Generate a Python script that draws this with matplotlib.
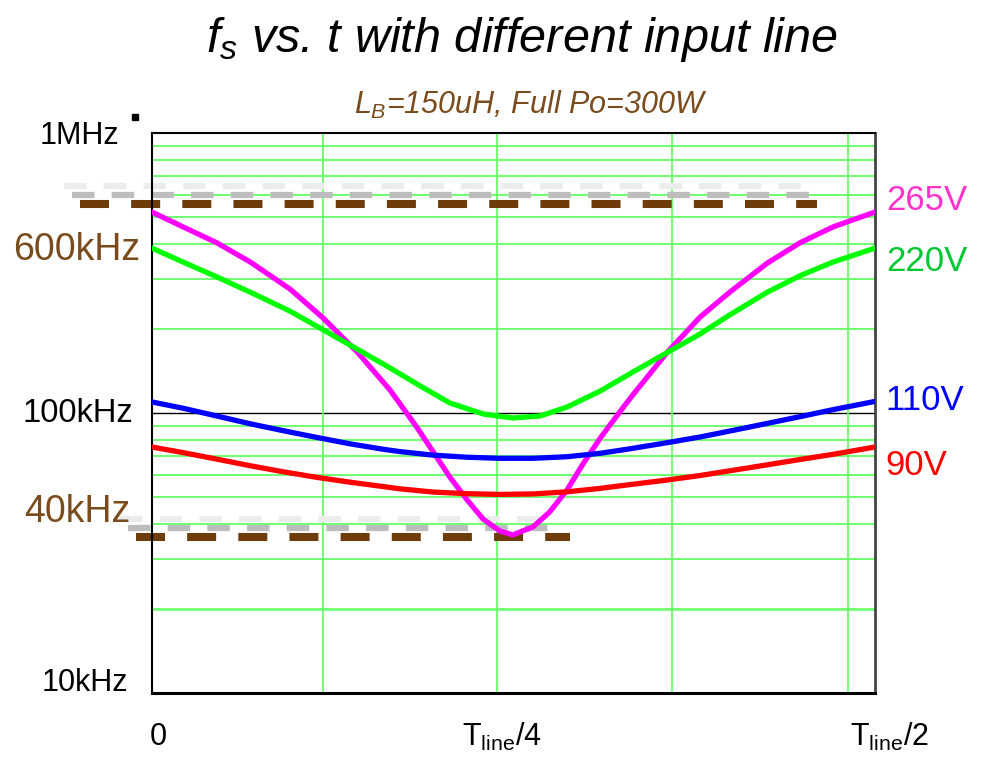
import matplotlib
matplotlib.use("Agg")
import matplotlib.pyplot as plt

plt.rcParams["font.family"] = ["Liberation Sans", "DejaVu Sans"]
plt.rcParams["mathtext.fontset"] = "custom"
plt.rcParams["mathtext.rm"] = "Liberation Sans"
plt.rcParams["mathtext.it"] = "Liberation Sans:italic"

# time as a fraction of T_line/2, switching frequency in kHz
t_265 = [0, 0.043, 0.090, 0.136, 0.191, 0.237, 0.284, 0.329, 0.367, 0.389, 0.412, 0.436,
         0.458, 0.481, 0.499, 0.527, 0.550, 0.574, 0.596, 0.620, 0.650, 0.665, 0.712,
         0.758, 0.799, 0.851, 0.896, 0.942, 1.0]
f_265 = [522, 462, 405, 346, 277, 218, 165, 121, 88.4, 72.6, 59, 48.9, 41.8, 37.9, 36.7,
         39.2, 44.3, 53.1, 65.7, 81.4, 103.3, 116, 164, 220, 270, 343, 405, 462, 522]

t_220 = [0, 0.043, 0.090, 0.136, 0.191, 0.237, 0.284, 0.329, 0.371, 0.412, 0.458, 0.499,
         0.537, 0.574, 0.620, 0.665, 0.719, 0.758, 0.799, 0.851, 0.896, 0.942, 1.0]
f_220 = [388, 346, 306, 270, 231, 198, 169, 145, 124.9, 108.6, 99.2, 96, 97.6, 105, 119.8,
         140, 168, 191.5, 224, 270, 309, 346, 388]

t_110 = [0, 0.043, 0.090, 0.136, 0.181, 0.228, 0.274, 0.320, 0.343, 0.389, 0.436, 0.481,
         0.527, 0.574, 0.620, 0.661, 0.712, 0.758, 0.803, 0.851, 0.896, 0.942, 1.0]
f_110 = [109.5, 104, 97.5, 91.5, 86.5, 81.8, 77.6, 74.2, 72.8, 70.7, 69.5, 68.9, 68.9, 69.8,
         71.8, 74.5, 78.3, 82.1, 86.6, 91.8, 97, 102.8, 110]

t_90 = [0, 0.043, 0.090, 0.136, 0.181, 0.228, 0.274, 0.320, 0.343, 0.389, 0.436, 0.481,
        0.527, 0.574, 0.620, 0.661, 0.712, 0.758, 0.803, 0.851, 0.896, 0.942, 1.0]
f_90 = [75.6, 72.2, 68.4, 64.8, 61.7, 58.9, 56.6, 54.6, 53.6, 52.2, 51.5, 51.2, 51.4, 52.3,
        53.8, 55.5, 57.6, 59.8, 62.4, 65.3, 68.2, 71.2, 75.6]

# frequency limits (kHz) drawn as dashed lines
f_limit_hi = 558
f_limit_lo = 36.1

x_grid = [0.2365, 0.477, 0.719, 0.963]
y_minor = [20, 30, 40, 50, 60, 70, 80, 90, 200, 300, 400, 500, 600, 700, 800, 900]

series = [
    ("265V", t_265, f_265, "#ff00ff", "#ff33cc", 0.880),
    ("220V", t_220, f_220, "#00ff00", "#00c832", 0.770),
    ("110V", t_110, f_110, "#0000ff", "#0000ff", 0.523),
    ("90V", t_90, f_90, "#ff0000", "#ff0000", 0.407),
]

brown = "#6e3b0a"
brown_txt = "#7a4b1c"

fig = plt.figure(figsize=(9.82, 7.58), dpi=100)
ax = fig.add_axes([152 / 982, 65 / 758, 723 / 982, 560 / 758])
ax.set_yscale("log")
ax.set_xlim(0, 1)
ax.set_ylim(10, 1000)

for f in y_minor:
    ax.axhline(f, color="#70ff70", lw=2.0 if f == 20 else 1.4, zorder=1)
ax.axhline(100, color="black", lw=1.0, zorder=1)
for x in x_grid:
    ax.axvline(x, color="#66ff66", lw=1.3, zorder=1)

# dashed limit lines with grey shadows
dash = (0, (3.6, 2.75))
up1 = 10 ** (9 / 280)
up2 = 10 ** (18 / 280)
for flim, x0, x1 in [(f_limit_hi, -0.1, 0.92), (f_limit_lo, -0.022, 0.578)]:
    ax.plot([x0 - 0.022, x1 - 0.022], [flim * up2] * 2, color="#ececec", lw=4.5,
            ls=dash, clip_on=False, zorder=2)
    ax.plot([x0 - 0.011, x1 - 0.011], [flim * up1] * 2, color="#bdbdbd", lw=4.5,
            ls=dash, clip_on=False, zorder=2)
    ax.plot([x0, x1], [flim] * 2, color=brown, lw=5.8, ls=dash, clip_on=False, zorder=2)

for name, t, f, c, tc, ly in series:
    ax.plot(t, f, color=c, lw=3.8, zorder=3, solid_joinstyle="round")
    ax.text(1.015, ly, name, color=tc, fontsize=25, transform=ax.transAxes,
            ha="left", va="center")

ax.set_xticks([])
ax.set_yticks([])
ax.minorticks_off()
ax.tick_params(which="both", length=0)
for s in ["left", "bottom", "top"]:
    ax.spines[s].set_color("black")
    ax.spines[s].set_linewidth(1.5)
ax.spines["bottom"].set_linewidth(2.2)
ax.spines["right"].set_color("#444444")
ax.spines["right"].set_linewidth(2)

# y labels
ylabels = [("1MHz", 0.994, "black", 22, -0.045), ("600kHz", 0.791, brown_txt, 27, -0.016),
           ("100kHz", 0.5, "black", 23.5, -0.026), ("40kHz", 0.323, brown_txt, 27, -0.03),
           ("10kHz", 0.018, "black", 22, -0.033)]
for lab, y, c, fs, xr in ylabels:
    ax.text(xr, y, lab, color=c, fontsize=fs, transform=ax.transAxes,
            ha="right", va="center")
ax.plot([-0.0235], [1.029], marker="s", ms=4, color="black", transform=ax.transAxes,
        clip_on=False)

# x labels
for lab, x in [("0", -0.003), (r"T$_{\mathrm{line}}$/4", 0.429), (r"T$_{\mathrm{line}}$/2", 0.965)]:
    ax.text(x, -0.078, lab, fontsize=22, transform=ax.transAxes, ha="left", va="center")

fig.text(0.532, 0.948, r"$f_s$ vs. t with different input line", fontsize=35,
         style="italic", ha="center", va="center")
fig.text(0.540, 0.861, r"$L_B$=150uH, Full Po=300W", fontsize=22, style="italic",
         color=brown_txt, ha="center", va="center")

fig.savefig("out.png", dpi=100)
